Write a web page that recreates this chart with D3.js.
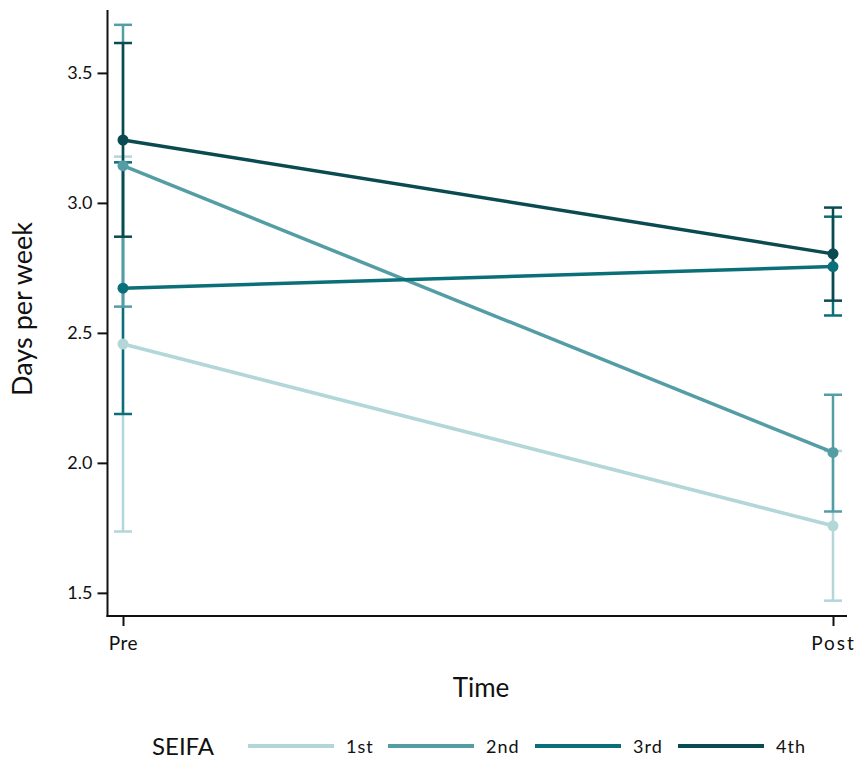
<!DOCTYPE html>
<html>
<head>
<meta charset="utf-8">
<script src="https://cdn.jsdelivr.net/npm/d3@7"></script>
<style>
  html, body { margin: 0; padding: 0; background: #fff; }
  svg { display: block; }
  text { font-family: Lato, "Open Sans", sans-serif; fill: #111; }
</style>
</head>
<body>
<svg id="chart" width="861" height="761"></svg>
<script>
// Time points and SEIFA quartile groups
const times = ["Pre", "Post"];
const groups = ["1st", "2nd", "3rd", "4th"];
const colors = ["#b3d6d9", "#559da5", "#0b6f79", "#0a4a51"];

// Estimated means with 95% confidence limits (days per week)
const means1 = [2.457, 1.758], lo1 = [1.736, 1.470], hi1 = [3.178, 2.046];
const means2 = [3.143, 2.040], lo2 = [2.601, 1.813], hi2 = [3.685, 2.262];
const means3 = [2.672, 2.755], lo3 = [2.188, 2.567], hi3 = [3.156, 2.947];
const means4 = [3.242, 2.804], lo4 = [2.870, 2.624], hi4 = [3.615, 2.982];

const yTicks = [1.5, 2.0, 2.5, 3.0, 3.5];

const series = [
  { name: groups[0], color: colors[0], mean: means1, lo: lo1, hi: hi1 },
  { name: groups[1], color: colors[1], mean: means2, lo: lo2, hi: hi2 },
  { name: groups[2], color: colors[2], mean: means3, lo: lo3, hi: hi3 },
  { name: groups[3], color: colors[3], mean: means4, lo: lo4, hi: hi4 }
];

const svg = d3.select("#chart");

const y = d3.scaleLinear().domain([1.411, 3.742]).range([616, 10]);
const x = d3.scalePoint().domain(times).range([123, 833]);

const axisLeftX = 107.5, axisBottomY = 616;

// Y axis
const gy = svg.append("g")
  .attr("transform", `translate(${axisLeftX},0)`)
  .call(d3.axisLeft(y).tickValues(yTicks).tickFormat(d3.format(".1f")).tickSize(10).tickPadding(5));
gy.select(".domain").remove();
gy.selectAll(".tick line").attr("stroke", "#111").attr("stroke-width", 2);
gy.selectAll(".tick text").style("font-size", "18px").style("font-family", "Lato, sans-serif").attr("fill", "#111");
svg.append("line")
  .attr("x1", axisLeftX).attr("x2", axisLeftX)
  .attr("y1", 10).attr("y2", axisBottomY + 1)
  .attr("stroke", "#111").attr("stroke-width", 2);

// X axis
const gx = svg.append("g")
  .attr("transform", `translate(0,${axisBottomY})`)
  .call(d3.axisBottom(x).tickSize(10).tickPadding(11));
gx.select(".domain").remove();
gx.selectAll(".tick line").attr("stroke", "#111").attr("stroke-width", 2);
gx.selectAll(".tick text")
  .style("font-size", "19px")
  .style("font-family", "Lato, sans-serif")
  .style("letter-spacing", d => d === "Post" ? "2px" : "0.5px")
  .attr("fill", "#111");
svg.append("line")
  .attr("x1", axisLeftX - 1).attr("x2", 847)
  .attr("y1", axisBottomY).attr("y2", axisBottomY)
  .attr("stroke", "#111").attr("stroke-width", 2);

// Axis titles
svg.append("text")
  .attr("transform", "translate(32,309) rotate(-90)")
  .attr("text-anchor", "middle")
  .style("font-size", "27px")
  .text("Days per week");
svg.append("text")
  .attr("x", 481).attr("y", 697)
  .attr("text-anchor", "middle")
  .style("font-size", "26px")
  .text("Time");

// Confidence interval caps
const capHalf = 9;
const barOrder = [0, 2, 1, 3];
barOrder.forEach(i => {
  const s = series[i];
  const g = svg.append("g").attr("stroke", s.color).attr("stroke-width", 2.5).attr("fill", "none");
  times.forEach((t, k) => {
    const cx = x(t);
    g.append("line").attr("x1", cx).attr("x2", cx).attr("y1", y(s.lo[k])).attr("y2", y(s.hi[k]));
    g.append("line").attr("x1", cx - capHalf).attr("x2", cx + capHalf).attr("y1", y(s.lo[k])).attr("y2", y(s.lo[k]));
    g.append("line").attr("x1", cx - capHalf).attr("x2", cx + capHalf).attr("y1", y(s.hi[k])).attr("y2", y(s.hi[k]));
  });
});

// Mean lines and markers
const line = d3.line().x((d, k) => x(times[k])).y(d => y(d));
series.forEach(s => {
  svg.append("path")
    .datum(s.mean)
    .attr("d", line)
    .attr("fill", "none")
    .attr("stroke", s.color)
    .attr("stroke-width", 3.5);
});
series.forEach(s => {
  svg.selectAll(null)
    .data(s.mean)
    .enter().append("circle")
    .attr("cx", (d, k) => x(times[k]))
    .attr("cy", d => y(d))
    .attr("r", 5.5)
    .attr("fill", s.color);
});

// Legend
const legendY = 746;
svg.append("text")
  .attr("x", 152).attr("y", legendY + 9)
  .style("font-size", "24px")
  .text("SEIFA");
const legendStarts = [248, 388, 535, 678];
series.forEach((s, i) => {
  const x0 = legendStarts[i];
  svg.append("line")
    .attr("x1", x0).attr("x2", x0 + 86)
    .attr("y1", legendY).attr("y2", legendY)
    .attr("stroke", s.color).attr("stroke-width", 4);
  svg.append("text")
    .attr("x", x0 + 98).attr("y", legendY + 7)
    .style("font-size", "18px")
    .style("letter-spacing", "1px")
    .text(s.name);
});
</script>
</body>
</html>
